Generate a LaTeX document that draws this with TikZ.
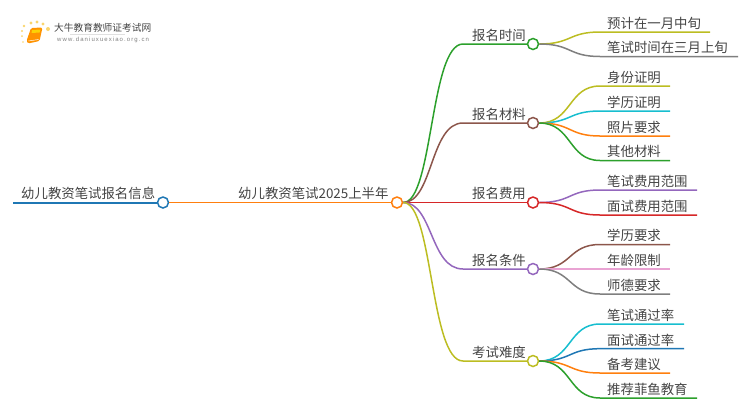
\documentclass[tikz,border=0pt]{standalone}
\usepackage{fontspec}
\setmainfont{Noto Sans CJK SC}
\newfontfamily\urlfont[LetterSpace=18]{Liberation Sans}
\definecolor{cgreen}{HTML}{2CA02C}
\definecolor{cbrown}{HTML}{8C564B}
\definecolor{cred}{HTML}{D62728}
\definecolor{cpurple}{HTML}{9467BD}
\definecolor{colive}{HTML}{BCBD22}
\definecolor{ccyan}{HTML}{17BECF}
\definecolor{corange}{HTML}{FF7F0E}
\definecolor{cblue}{HTML}{1F77B4}
\definecolor{cgray}{HTML}{7F7F7F}
\definecolor{cpink}{HTML}{E9A3D3}
\definecolor{ctext}{HTML}{444444}
\definecolor{csun}{HTML}{F9D56E}
\tikzset{
  dot/.style={circle,draw=#1,fill=white,line width=1.5pt,minimum size=11pt,inner sep=0pt},
  lbl/.style={anchor=base west,inner sep=0pt,text=ctext,font=\fontsize{13.4}{14}\selectfont},
  wire/.style={draw=#1,line width=1.5pt},
  sundot/.style={circle,fill=csun,inner sep=0pt,minimum size=#1},
}
\newcommand{\leaf}[7]{% name, colour, start node, y, end x, text, unused
  \coordinate (#1e) at (600,#4);
  \coordinate (#1x) at (#5,#4);
  \draw[wire=#2] (#3.east) .. controls (572,\csname ybase#3\endcsname) and (568,#4) .. (#1e) -- (#1x);
  \node[lbl] (#1t) at (607,#4-3.6) {#6};
}
\newcommand{\branch}[5]{% name, colour, y, text, unused
  \coordinate (#1e) at (463,#3);
  \expandafter\def\csname ybase#1\endcsname{#3}
  \draw[wire=#2] (hub.east) .. controls (433,202.5) and (430,#3) .. (#1e) -- (527,#3);
  \node[dot=#2] (#1) at (533,#3) {};
  \node[lbl] (#1t) at (472,#3-3.6) {#4};
}
\begin{document}
\begin{tikzpicture}[x=1pt,y=-1pt]
\useasboundingbox (0,0) rectangle (750,410);
% logo
\foreach \i/\p/\s in {a/{24,26}/2.8pt,b/{31,23}/3.4pt,c/{37,22}/3.4pt,d/{43,24}/3.4pt,e/{48,29}/4pt,f/{22,31}/2.4pt,g/{22,36}/2pt,h/{23,42}/1.6pt}
  \node[sundot=\s] (sun\i) at (\p) {};
\fill[orange!85!yellow,rounded corners=1.5pt] (31,28) -- (42.5,27.5) -- (39.5,41) -- (28,43.5) -- (26.5,41) -- cycle;
\fill[yellow!70!orange] (32,30) -- (40.5,29.5) -- (39.5,32.5) -- (31.5,33) -- cycle;
\draw[white,line width=.5pt] (28.5,41) -- (38.5,39.5);
\node[anchor=base west,inner sep=0pt,text=ctext,font=\fontsize{9.7}{10}\selectfont] (logot) at (54,31) {大牛教育教师证考试网};
\fill[black!12] (70,33.5) rectangle (125,34);
\node[anchor=base west,inner sep=0pt,text=black!50,font=\urlfont\fontsize{6}{7}\selectfont] (logou) at (57,41.3) {www.daniuxuexiao.org.cn};
% spine
\coordinate (rootl) at (13,202.5);
\node[dot=cblue] (root) at (163,202.5) {};
\node[dot=corange] (hub) at (397,202.5) {};
\draw[wire=cblue,line width=2pt] (rootl) -- (root);
\draw[wire=corange,line width=1.7pt] (root) -- (hub);
\node[lbl] (roott) at (21,198.9) {幼儿教资笔试报名信息};
\node[lbl] (hubt) at (238,198.9) {幼儿教资笔试2025上半年};
% branches
\branch{bt}{cgreen}{44}{报名时间}{}
\branch{bm}{cbrown}{123}{报名材料}{}
\branch{bf}{cred}{202.5}{报名费用}{}
\branch{bc}{cpurple}{269}{报名条件}{}
\branch{bd}{colive}{361}{考试难度}{}
% leaves
\leaf{la}{colive}{bt}{32}{710}{预计在一月中旬}{}
\leaf{lb}{cgray}{bt}{56.5}{738}{笔试时间在三月上旬}{}
\leaf{lc}{colive}{bm}{86}{670}{身份证明}{}
\leaf{ld}{ccyan}{bm}{111}{670}{学历证明}{}
\leaf{le}{corange}{bm}{136}{670}{照片要求}{}
\leaf{lf}{cgreen}{bm}{160.5}{670}{其他材料}{}
\leaf{lg}{cpurple}{bf}{190}{697}{笔试费用范围}{}
\leaf{lh}{cred}{bf}{215}{697}{面试费用范围}{}
\leaf{li}{cbrown}{bc}{244.5}{670}{学历要求}{}
\leaf{lj}{cpink}{bc}{269}{670}{年龄限制}{}
\leaf{lk}{cgray}{bc}{294}{670}{师德要求}{}
\leaf{ll}{ccyan}{bd}{324}{684}{笔试通过率}{}
\leaf{lm}{cblue}{bd}{348.7}{684}{面试通过率}{}
\leaf{ln}{corange}{bd}{373}{670}{备考建议}{}
\leaf{lo}{cgreen}{bd}{398}{697}{推荐菲鱼教育}{}
\end{tikzpicture}
\end{document}
